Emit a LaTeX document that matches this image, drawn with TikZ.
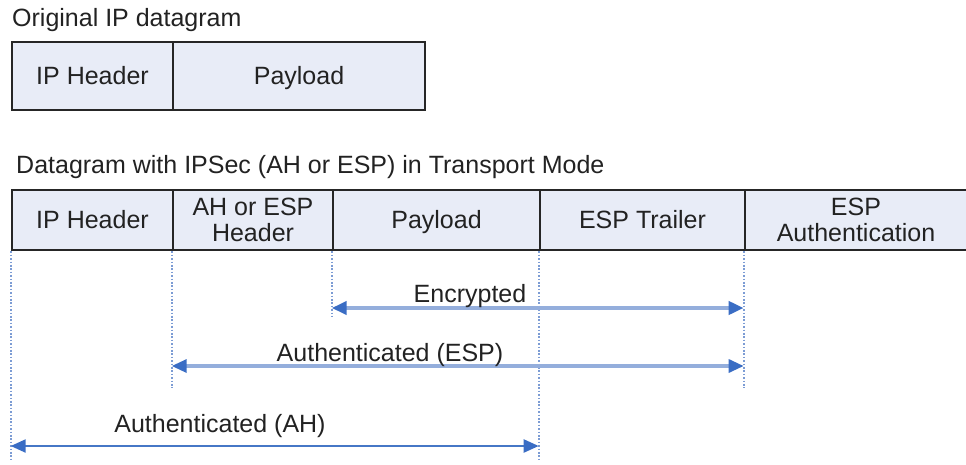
\documentclass[tikz,border=0pt]{standalone}
\usepackage{fontspec}
\setmainfont{Liberation Sans}
\usetikzlibrary{arrows.meta}
\definecolor{cellfill}{HTML}{E8ECF7}
\definecolor{cellline}{HTML}{262626}
\definecolor{txt}{HTML}{222222}
\definecolor{guideblue}{HTML}{7C9CD4}
\definecolor{spanlight}{HTML}{94AEDC}
\definecolor{spandark}{HTML}{4677C6}
\definecolor{tipblue}{HTML}{3A6DC4}
% single-line cell text: centre the capitals, ignore descenders
\newcommand{\cellline}[1]{\vphantom{H}\smash{#1}}
\tikzset{
  cell/.style={draw=cellline, line width=2.6pt, fill=cellfill, text=txt,
    inner sep=0pt, align=center, font=\fontsize{25}{26}\selectfont},
  caption/.style={anchor=base west, inner sep=0pt, text=txt,
    font=\fontsize{25}{27}\selectfont},
  spanlabel/.style={anchor=base, inner sep=0pt, text=txt,
    font=\fontsize{25}{27}\selectfont},
  guide/.style={draw=guideblue, line width=1.6pt, dash pattern=on 1.6pt off 1.8pt},
  spanarrow/.style={{Triangle[length=15pt,width=13pt,color=tipblue]}-{Triangle[length=15pt,width=13pt,color=tipblue]}},
}
\begin{document}
\begin{tikzpicture}[x=1pt,y=-1pt]
\useasboundingbox (0,0) rectangle (966,464);

% original datagram
\node[caption] (cap1) at (12,26) {Original IP datagram};
\node[cell, minimum width=161pt, minimum height=68pt] (oip) at (92.5,76) {\cellline{IP Header}};
\node[cell, minimum width=252pt, minimum height=68pt] (opay) at (299,76) {\cellline{Payload}};

% datagram in transport mode
\node[caption] (cap2) at (16,173) {Datagram with IPSec (AH or ESP) in Transport Mode};
\node[cell, minimum width=161pt, minimum height=60pt] (tip) at (92.5,220) {\cellline{IP Header}};
\node[cell, minimum width=160pt, minimum height=60pt] (tah) at (253,220) {AH or ESP\\Header};
\node[cell, minimum width=207pt, minimum height=60pt] (tpay) at (436.5,220) {\cellline{Payload}};
\node[cell, minimum width=205pt, minimum height=60pt] (ttr) at (642.5,220) {\cellline{ESP Trailer}};
\node[cell, minimum width=222pt, minimum height=60pt] (tauth) at (856,220) {ESP\\Authentication};

% guide line ends
\coordinate (g1) at (tip.south west |- 0,460);
\coordinate (g2) at (tah.south west |- 0,388);
\coordinate (g3) at (tpay.south west |- 0,316);
\coordinate (g4) at (ttr.south west |- 0,460);
\coordinate (g5) at (tauth.south west |- 0,388);

\draw[guide] (tip.south west) -- (g1);
\draw[guide] (tah.south west) -- (g2);
\draw[guide] (tpay.south west) -- (g3);
\draw[guide] (ttr.south west) -- (g4);
\draw[guide] (tauth.south west) -- (g5);

% coverage spans
\coordinate (encL) at (tpay.south west |- 0,308);
\coordinate (encR) at (tauth.south west |- 0,308);
\coordinate (espL) at (tah.south west |- 0,366);
\coordinate (espR) at (tauth.south west |- 0,366);
\coordinate (ahL) at (tip.south west |- 0,446);
\coordinate (ahR) at (ttr.south west |- 0,446);

\draw[spanarrow, draw=spanlight, line width=4pt] (encL) -- (encR);
\draw[spanarrow, draw=spanlight, line width=3.2pt] (espL) -- (espR);
\draw[spanarrow, draw=spandark, line width=2.2pt] (ahL) -- (ahR);

\node[spanlabel] (lenc) at (470,302) {Encrypted};
\node[spanlabel] (lesp) at (390,361) {Authenticated (ESP)};
\node[spanlabel] (lah) at (220,432) {Authenticated (AH)};
\end{tikzpicture}
\end{document}
